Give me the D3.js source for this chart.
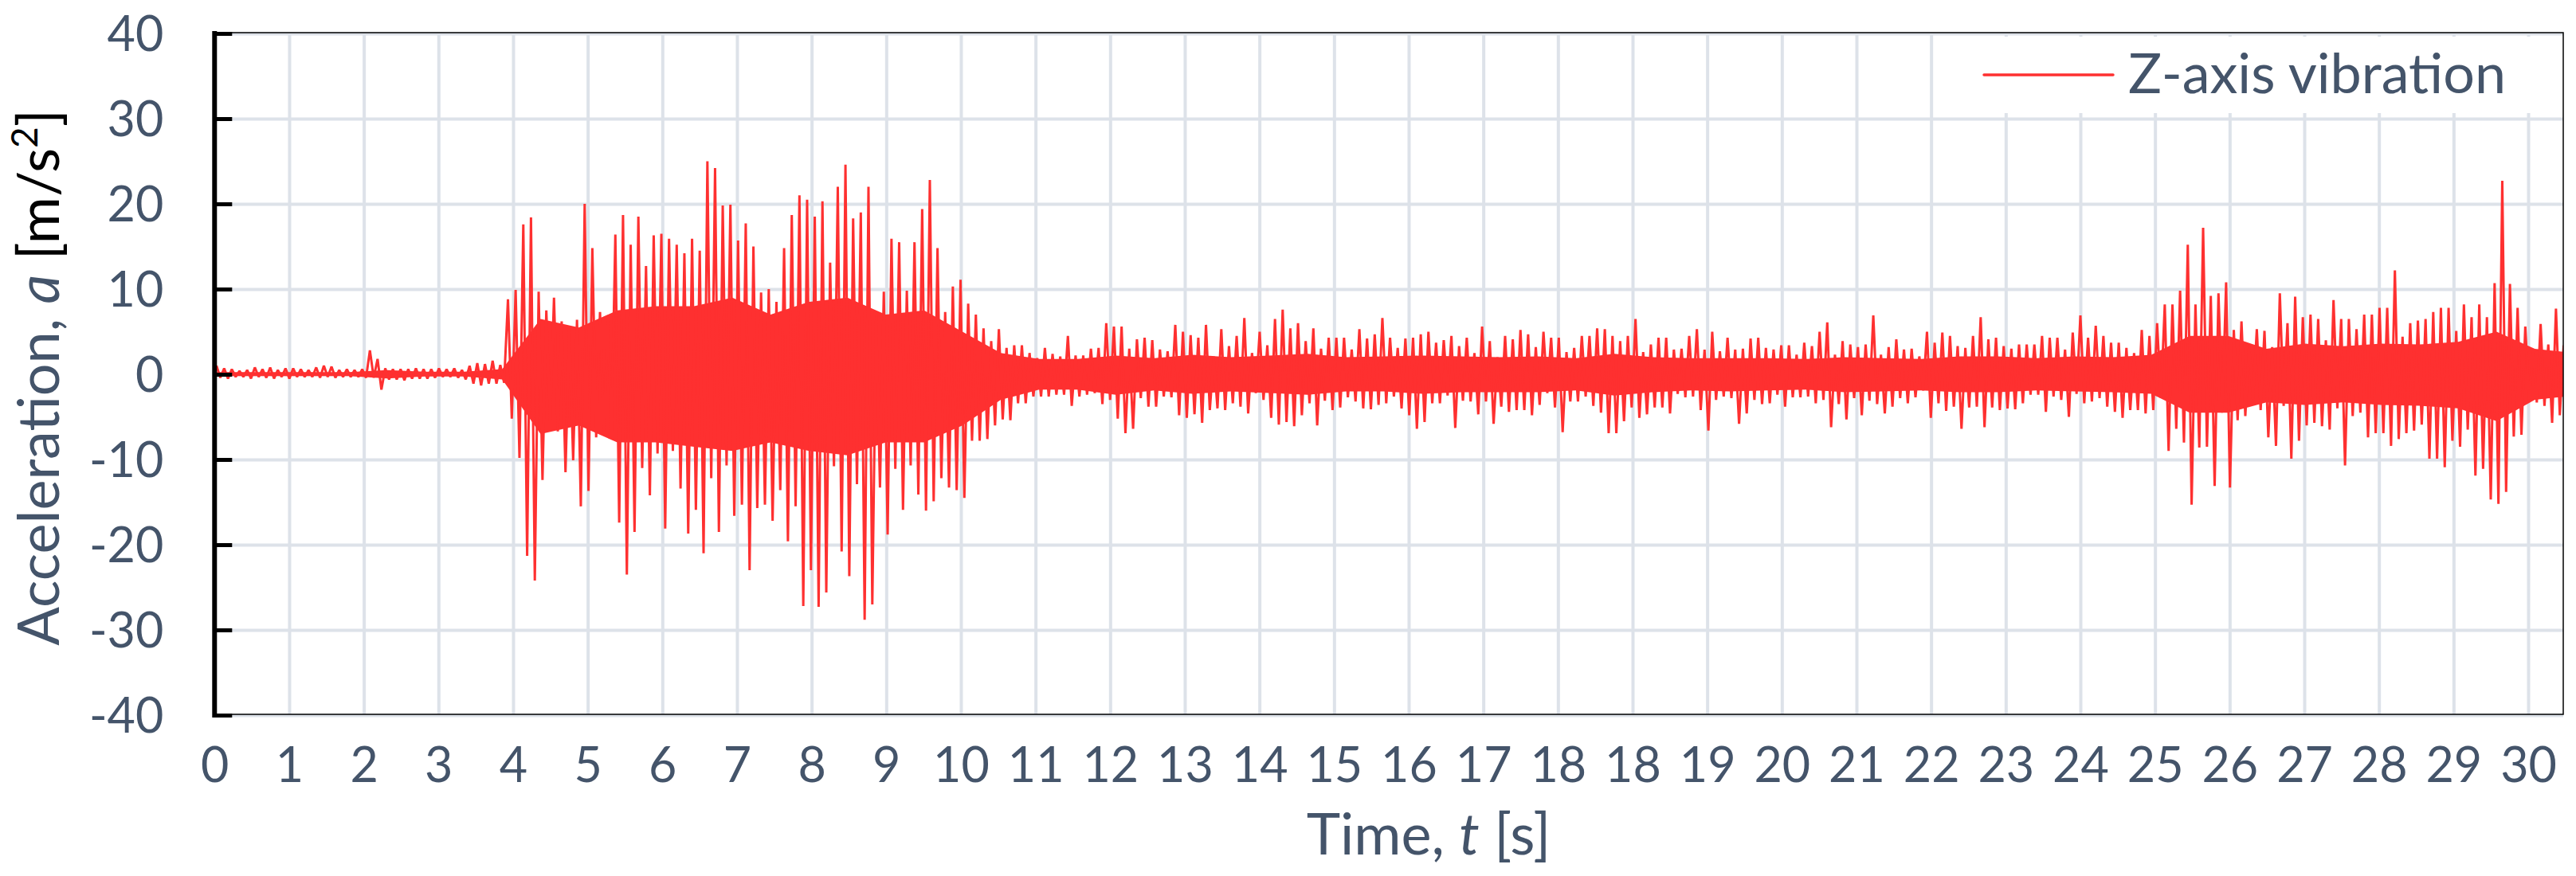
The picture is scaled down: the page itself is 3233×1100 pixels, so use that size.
<!DOCTYPE html>
<html><head><meta charset="utf-8">
<script src="https://cdn.jsdelivr.net/npm/d3@7"></script>
<style>html,body{margin:0;padding:0;background:#fff;} svg{display:block;}</style>
</head><body>
<script>
// ---------------- DATA ----------------
const seriesName = "Z-axis vibration";
const yTicks = [-40, -30, -20, -10, 0, 10, 20, 30, 40];
// category-axis labels as printed (the axis rounds time; "18" appears twice)
const xTickLabels = [0,1,2,3,4,5,6,7,8,9,10,11,12,13,14,15,16,17,18,18,19,20,21,22,23,24,25,26,27,28,29,30];
const tickStep = 0.973;   // seconds between labelled gridlines
const tMax = 30.62;       // right end of the plot [s]
const binWidth = 0.1;     // peak values read per 0.1 s
const peakHigh = [
 1.0,0.7,0.6,0.4,0.5,0.8,0.6,0.8,0.5,0.7,
 0.7,0.6,0.5,0.8,1.0,0.9,0.5,0.6,0.5,0.6,
 2.8,1.8,0.7,0.6,0.6,0.6,0.7,0.6,0.6,0.7,
 0.6,0.7,0.5,1.0,1.3,1.2,1.6,1.1,8.8,9.9,
 17.6,18.4,9.7,7.5,9.0,6.2,5.4,6.4,20.0,14.8,
 7.3,6.2,16.4,18.7,15.2,18.5,12.7,16.3,16.5,15.9,
 15.2,14.2,15.9,14.5,25.0,24.2,19.8,19.9,15.7,17.7,
 15.0,9.6,10.0,8.5,14.8,18.7,21.0,20.5,18.5,20.3,
 13.1,22.0,24.6,18.3,19.0,22.0,7.0,9.7,15.9,15.5,
 9.8,15.5,19.4,22.8,14.8,7.3,10.3,11.1,8.3,7.0,
 5.4,3.9,5.3,3.1,3.4,3.4,2.5,1.9,3.1,2.4,
 2.1,4.5,2.2,2.2,3.0,3.1,6.0,5.6,5.6,3.0,
 4.1,4.3,4.0,2.9,2.7,5.8,5.0,4.6,4.3,5.8,
 2.0,5.3,3.3,4.5,6.6,2.5,5.0,3.4,6.5,7.6,
 5.4,6.0,3.9,5.4,3.0,4.3,4.3,4.3,2.9,5.3,
 4.2,4.7,6.6,4.3,3.1,4.2,4.3,4.7,5.0,3.7,
 4.0,4.5,3.3,4.3,2.5,5.6,3.9,2.0,4.5,4.1,
 5.2,4.7,3.2,5.0,4.3,4.3,2.6,3.1,4.5,4.5,
 5.4,5.3,4.5,3.9,4.5,6.5,2.6,3.5,4.3,4.3,
 2.9,3.0,4.5,5.3,2.9,5.0,2.7,4.3,2.9,3.0,
 4.2,4.3,3.1,2.9,3.4,3.4,2.3,3.7,3.3,5.0,
 6.1,2.3,3.9,3.5,3.2,3.5,6.9,2.3,3.2,4.1,
 2.9,3.0,2.1,5.0,3.7,4.9,4.5,3.3,3.1,4.5,
 6.7,4.1,4.3,3.3,3.0,3.5,3.5,3.5,4.5,4.3,
 4.3,2.9,4.9,6.9,4.3,5.7,4.5,3.7,3.7,3.1,
 2.5,5.2,4.5,6.0,8.2,8.2,9.8,15.2,8.2,17.2,
 9.2,9.5,10.8,5.2,6.2,3.5,5.3,5.1,3.2,9.5,
 6.0,9.1,6.7,7.0,6.5,4.0,8.7,6.5,6.5,5.3,
 7.0,7.0,7.8,7.8,12.2,4.4,6.0,6.3,6.5,7.3,
 7.8,7.8,5.1,8.2,6.7,8.2,6.7,10.7,22.7,10.6,
 7.8,5.6,2.7,5.9,3.5,7.7,3.4
];
const peakLow = [
 -0.4,-0.5,-0.3,-0.3,-0.5,-0.3,-0.4,-0.5,-0.3,-0.5,
 -0.3,-0.3,-0.3,-0.4,-0.3,-0.4,-0.3,-0.3,-0.3,-0.4,
 -0.4,-1.8,-0.6,-0.6,-0.7,-0.5,-0.5,-0.5,-0.4,-0.3,
 -0.3,-0.4,-0.6,-1.1,-1.3,-1.1,-1.1,-1.0,-5.2,-9.8,
 -21.3,-24.2,-12.4,-5.5,-6.7,-11.5,-10.1,-15.5,-13.7,-7.4,
 -6.8,-6.8,-17.4,-23.5,-18.5,-11.0,-14.2,-9.3,-18.1,-9.0,
 -13.4,-18.7,-15.9,-21.0,-12.2,-18.5,-10.7,-16.6,-15.3,-23.0,
 -15.7,-15.3,-17.2,-13.6,-19.6,-15.5,-27.2,-23.0,-27.3,-25.6,
 -10.8,-20.8,-23.7,-12.9,-28.8,-27.0,-13.3,-18.8,-11.1,-15.9,
 -10.7,-14.1,-16.0,-14.9,-12.2,-13.3,-13.6,-14.5,-7.8,-7.8,
 -7.6,-6.0,-5.3,-5.4,-3.4,-3.4,-2.6,-2.6,-2.6,-2.4,
 -2.4,-3.7,-2.6,-2.4,-2.2,-3.5,-3.0,-5.2,-6.9,-6.4,
 -2.8,-3.8,-3.8,-2.6,-2.7,-4.8,-5.1,-4.7,-5.7,-4.2,
 -4.0,-4.2,-3.4,-3.8,-4.6,-2.2,-3.0,-5.1,-5.9,-5.6,
 -6.1,-4.8,-3.4,-6.0,-3.1,-4.2,-3.9,-2.7,-3.2,-4.0,
 -4.1,-3.6,-3.4,-2.6,-4.0,-4.8,-6.4,-5.6,-3.4,-3.4,
 -2.5,-6.3,-3.1,-3.2,-4.7,-3.2,-5.8,-3.8,-4.4,-4.2,
 -4.2,-4.8,-3.6,-2.2,-3.9,-6.8,-3.2,-3.2,-2.6,-3.7,
 -4.5,-6.9,-6.9,-5.5,-3.9,-5.1,-4.7,-3.9,-3.9,-4.6,
 -2.3,-2.7,-2.6,-4.2,-6.6,-3.0,-2.6,-2.8,-5.8,-4.6,
 -3.0,-3.5,-3.4,-2.4,-3.8,-2.7,-2.7,-2.6,-3.4,-3.0,
 -6.2,-3.5,-5.3,-2.8,-4.8,-3.1,-3.5,-4.6,-3.8,-2.8,
 -3.4,-2.7,-1.9,-5.1,-3.4,-4.3,-3.8,-6.4,-3.9,-3.8,
 -6.2,-3.9,-4.2,-4.0,-4.1,-3.4,-2.4,-2.4,-4.4,-2.6,
 -3.0,-5.0,-2.3,-3.4,-3.2,-2.8,-3.8,-4.4,-5.1,-4.2,
 -4.2,-4.6,-4.2,-2.8,-9.0,-6.4,-8.0,-15.3,-8.6,-8.5,
 -13.1,-4.5,-13.3,-5.4,-4.9,-3.0,-4.2,-7.4,-8.4,-3.7,
 -9.9,-7.8,-6.0,-5.7,-6.1,-6.5,-4.0,-10.7,-4.9,-4.5,
 -7.4,-6.9,-6.9,-8.4,-7.6,-6.9,-6.6,-5.9,-9.9,-9.9,
 -10.9,-7.8,-8.5,-6.5,-11.9,-11.1,-14.7,-15.2,-13.8,-7.3,
 -7.1,-3.0,-3.3,-3.7,-5.7,-4.8,-2.5
];
// solid core of the dense signal band, read per 0.5 s
const coreStep = 0.5;
const coreHigh = [0.25,0.25,0.25,0.25,0.5,0.3,0.3,0.6,6.5,5.5,7.5,8,8,9,7,8.5,9,7,7.5,5,2.5,1.8,1.8,2.2,1.9,2.3,2.0,2.2,2.4,2.0,2.1,2.2,2.1,2.0,2.1,1.9,2.4,2.0,1.9,1.9,1.9,1.8,2.0,1.9,1.8,2.1,2.1,1.9,2.1,2.0,2.3,4.5,4.5,3.0,3.6,3.3,3.6,3.5,3.8,5.0,3.0,2.5];
const coreLow  = [-0.2,-0.2,-0.2,-0.2,-0.5,-0.25,-0.25,-0.6,-7,-6,-8,-8,-8.5,-9,-8,-9,-9.5,-8,-8,-6,-3,-1.8,-1.8,-2.4,-1.9,-2.3,-2.0,-2.2,-2.4,-2.0,-2.0,-2.3,-2.1,-2.1,-2.1,-1.9,-2.5,-2.1,-1.9,-2.0,-1.9,-1.8,-2.1,-2.0,-1.9,-2.1,-2.1,-1.9,-2.0,-2.1,-2.3,-4.5,-4.5,-3.3,-3.6,-3.3,-3.6,-3.7,-4.0,-5.5,-3.0,-2.5];

// ---------------- CHART ----------------
const W = 3233, H = 1100;
const M = {left: 269.3, right: 3217, top: 42, bottom: 898};
const textColor = "#44546a", gridColor = "#dde2e9", red = "#fe3030";
const font = "Lato, 'Open Sans', sans-serif";

const x = d3.scaleLinear().domain([0, tMax]).range([M.left, M.right]);
const y = d3.scaleLinear().domain([-40, 40]).range([M.bottom, M.top]);
const xTickValues = xTickLabels.map((_, i) => i * tickStep);

const svg = d3.select("body").append("svg")
  .attr("width", W).attr("height", H)
  .style("font-family", font);

// gridlines
svg.append("g").attr("transform", `translate(0,${M.bottom})`)
  .call(d3.axisBottom(x).tickValues(xTickValues).tickSize(-(M.bottom - M.top)).tickFormat(""))
  .call(g => g.select(".domain").remove())
  .call(g => g.selectAll("line").attr("stroke", gridColor).attr("stroke-width", 4));
svg.append("g").attr("transform", `translate(${M.left},0)`)
  .call(d3.axisLeft(y).tickValues(yTicks).tickSize(-(M.right - M.left)).tickFormat(""))
  .call(g => g.select(".domain").remove())
  .call(g => g.selectAll("line").attr("stroke", gridColor).attr("stroke-width", 4));

// legend background (covers gridlines)
svg.append("rect").attr("x", 2440).attr("y", 46).attr("width", 3215 - 2440).attr("height", 96).attr("fill", "#fff");

// signal
svg.append("clipPath").attr("id", "plotclip").append("rect")
  .attr("x", M.left).attr("y", M.top - 2).attr("width", M.right - M.left).attr("height", M.bottom - M.top + 4);

const core = coreHigh.map((h, k) => ({t: (k + 0.5) * coreStep, hi: h, lo: coreLow[k]}));
core.unshift({t: 0, hi: coreHigh[0], lo: coreLow[0]});
core.push({t: tMax, hi: coreHigh[coreHigh.length - 1], lo: coreLow[coreLow.length - 1]});
svg.append("path").attr("clip-path", "url(#plotclip)")
  .attr("d", d3.area().x(d => x(d.t)).y0(d => y(d.lo)).y1(d => y(d.hi)).curve(d3.curveLinear)(core))
  .attr("fill", red);

const samples = [];
peakHigh.forEach((h, i) => {
  const t0 = i * binWidth;
  samples.push({t: t0 + 0.25 * binWidth, v: h});
  samples.push({t: t0 + 0.75 * binWidth, v: peakLow[i]});
});
svg.append("path").attr("clip-path", "url(#plotclip)")
  .attr("d", d3.line().x(d => x(d.t)).y(d => y(d.v))(samples))
  .attr("fill", "none").attr("stroke", red).attr("stroke-width", 3).attr("stroke-linejoin", "bevel");

// frame (thin top / right / bottom)
svg.append("path")
  .attr("d", `M${M.left},${M.top - 1}H${M.right}V${M.bottom - 1}H${M.left}`)
  .attr("fill", "none").attr("stroke", "#000").attr("stroke-width", 1.5);

// y axis (thick, inward ticks)
svg.append("g").attr("transform", `translate(${M.left},0)`)
  .call(d3.axisLeft(y).tickValues(yTicks).tickFormat(d => String(d)).tickSize(-22).tickSizeOuter(0).tickPadding(64))
  .call(g => g.select(".domain").attr("stroke", "#000").attr("stroke-width", 6)
              .attr("d", `M0,${M.top - 3}V${M.bottom + 3}`))
  .call(g => g.selectAll(".tick line").attr("stroke", "#000").attr("stroke-width", 5))
  .call(g => g.selectAll(".tick text").attr("fill", textColor).attr("font-size", 61)
              .attr("font-family", font).attr("dy", "0.36em"));

// x axis labels
svg.append("g").attr("transform", `translate(0,${M.bottom})`)
  .call(d3.axisBottom(x).tickValues(xTickValues).tickFormat((d, i) => String(xTickLabels[i])).tickSize(0).tickPadding(41))
  .call(g => g.select(".domain").remove())
  .call(g => g.selectAll(".tick text").attr("fill", textColor).attr("font-size", 61).attr("font-family", font));

// axis titles
const xt = svg.append("text").attr("x", 1793).attr("y", 1073)
  .attr("text-anchor", "middle").attr("font-size", 72).attr("fill", textColor);
xt.append("tspan").text("Time, ");
xt.append("tspan").attr("font-style", "italic").text("t");
xt.append("tspan").text(" [s]");

const yt = svg.append("text").attr("transform", "translate(74,474) rotate(-90)")
  .attr("text-anchor", "middle").attr("font-size", 72).attr("fill", textColor);
yt.append("tspan").text("Acceleration, ");
yt.append("tspan").attr("font-style", "italic").text("a");
yt.append("tspan").text(" ");
yt.append("tspan").attr("fill", "#000").text("[m/s");
yt.append("tspan").attr("fill", "#000").attr("font-size", 46).attr("dy", -27).text("2");
yt.append("tspan").attr("fill", "#000").attr("dy", 27).text("]");

// legend
svg.append("line").attr("x1", 2490).attr("x2", 2652).attr("y1", 94).attr("y2", 94)
  .attr("stroke", red).attr("stroke-width", 3.5).attr("stroke-linecap", "round");
svg.append("text").attr("x", 2671).attr("y", 117).attr("font-size", 70).attr("fill", textColor).text(seriesName);
</script>
</body></html>
